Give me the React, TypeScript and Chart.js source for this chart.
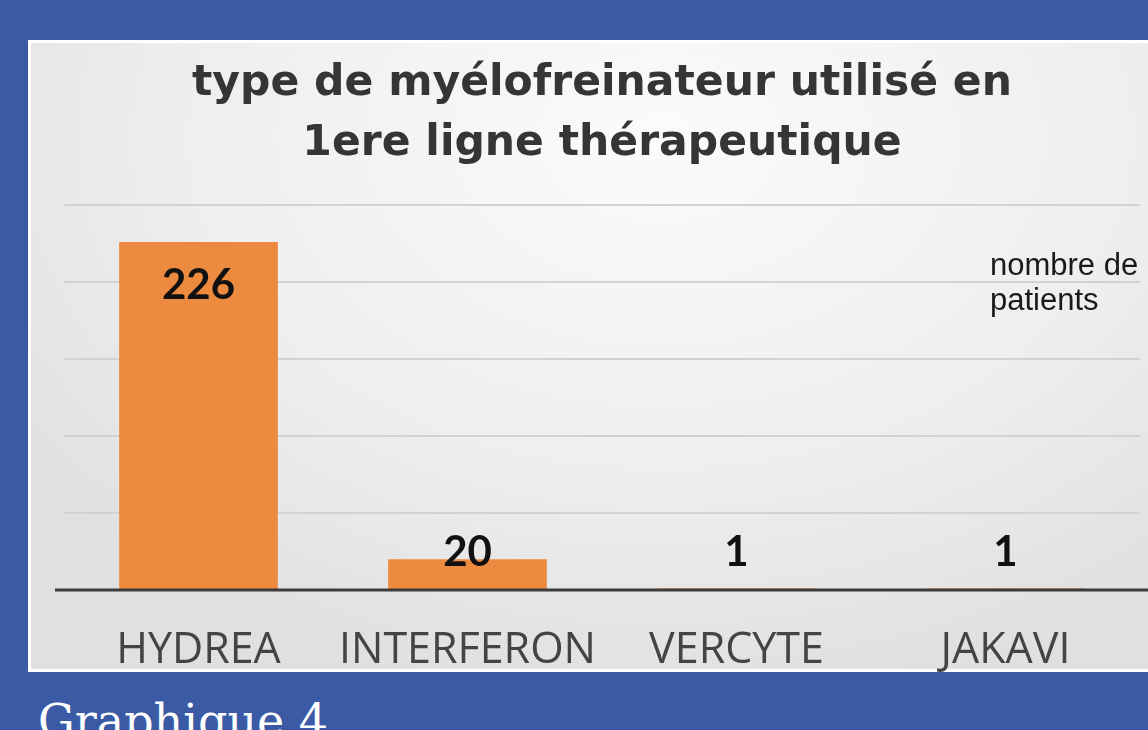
import React, { useEffect, useRef } from "react";
import { Chart, registerables } from "chart.js";

Chart.register(...registerables);

const categories = ["HYDREA", "INTERFERON", "VERCYTE", "JAKAVI"];
const patients = [226, 20, 1, 1];
const titleLines = ["type de myélofreinateur utilisé en", "1ere ligne thérapeutique"];
const seriesLabel = ["nombre de", "patients"];
const yMax = 250;
const yStep = 50;

const BAR_COLOR = "#ec8a3f";

const overlayPlugin = {
  id: "overlay",
  afterDatasetsDraw(chart: any) {
    const { ctx, chartArea } = chart;
    const yScale = chart.scales.y;
    const zeroY = yScale.getPixelForValue(0);
    ctx.save();
    // baseline
    ctx.strokeStyle = "#3c3c3c";
    ctx.lineWidth = 3;
    ctx.beginPath();
    ctx.moveTo(chartArea.left - 9, zeroY);
    ctx.lineTo(chart.width, zeroY);
    ctx.stroke();
    // value labels
    const meta = chart.getDatasetMeta(0);
    ctx.fillStyle = "#111";
    ctx.font = "bold 42px Lato, 'DejaVu Sans', sans-serif";
    ctx.textAlign = "center";
    ctx.textBaseline = "middle";
    meta.data.forEach((bar: any, i: number) => {
      const y = Math.min(bar.y + 43, bar.base - 37);
      ctx.fillText(String(patients[i]), bar.x, y);
    });
    // series label
    ctx.font = "31px 'Liberation Sans', Arial, sans-serif";
    ctx.fillStyle = "#1a1a1a";
    ctx.textAlign = "left";
    ctx.textBaseline = "alphabetic";
    seriesLabel.forEach((t, i) => {
      ctx.fillText(t, chartArea.right - 150, chartArea.top + 70 + i * 35);
    });
    ctx.restore();
  },
};

function BarChart() {
  const ref = useRef<HTMLCanvasElement>(null);
  useEffect(() => {
    if (!ref.current) return;
    const chart = new Chart(ref.current, {
      type: "bar",
      data: {
        labels: categories,
        datasets: [
          {
            label: "nombre de patients",
            data: patients,
            backgroundColor: BAR_COLOR,
            borderWidth: 0,
            categoryPercentage: 1,
            barPercentage: 0.59,
          },
        ],
      },
      options: {
        animation: false,
        responsive: false,
        layout: { padding: { left: 36, right: 36, top: 0, bottom: 0 } },
        plugins: {
          legend: { display: false },
          tooltip: { enabled: false },
          title: {
            display: true,
            text: titleLines,
            color: "#353535",
            font: { family: "'DejaVu Sans', sans-serif", size: 42.5, weight: "bold", lineHeight: 60 / 42.5 },
            padding: { top: 14, bottom: 31 },
          },
        },
        scales: {
          x: {
            grid: { display: false, drawTicks: false },
            border: { display: false },
            ticks: {
              color: "#444",
              padding: 35,
              maxRotation: 0,
              font: { family: "'Open Sans', 'DejaVu Sans', sans-serif", size: 43 },
            },
            afterFit: (scale: any) => {
              scale.height = 82;
            },
          },
          y: {
            min: 0,
            max: yMax,
            ticks: { display: false, stepSize: yStep },
            grid: { color: "#d2d2d2", lineWidth: 2, drawTicks: false },
            border: { display: false },
          },
        },
      },
      plugins: [overlayPlugin],
    });
    return () => chart.destroy();
  }, []);
  return (
    <canvas
      ref={ref}
      width={1148}
      height={632}
      style={{ position: "absolute", left: 28, top: 40, width: 1148, height: 632, display: "block" }}
    />
  );
}

export default function App() {
  return (
    <div
      style={{
        position: "fixed",
        left: 0,
        top: 0,
        width: 1148,
        height: 730,
        background: "#3a5aa5",
        overflow: "hidden",
      }}
    >
      <div
        style={{
          position: "absolute",
          left: 28,
          top: 40,
          width: 1148,
          height: 632,
          background: "#ffffff",
        }}
      >
        <div
          style={{
            position: "absolute",
            left: 3,
            top: 3,
            right: 0,
            bottom: 3,
            background: "radial-gradient(ellipse 70% 90% at 55% 15%, #fbfbfb 0%, #eeeeee 60%, #e0e0e0 100%)",
          }}
        />
      </div>
      <BarChart />
      <div
        style={{
          position: "absolute",
          left: 38,
          top: 698,
          color: "#ffffff",
          fontFamily: "'DejaVu Serif', 'Liberation Serif', serif",
          fontSize: 46,
          lineHeight: 1,
          whiteSpace: "nowrap",
        }}
      >
        Graphique 4
      </div>
    </div>
  );
}
